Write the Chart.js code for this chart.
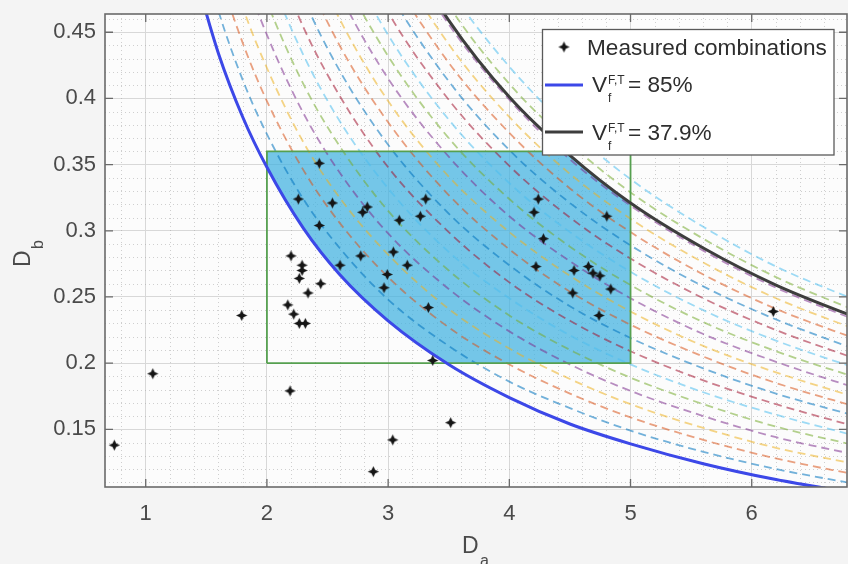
<!DOCTYPE html>
<html><head><meta charset="utf-8">
<script src="https://cdn.jsdelivr.net/npm/chart.js@4/dist/chart.umd.min.js"></script>
<style>html,body{margin:0;padding:0;background:#f4f4f4;}canvas{display:block;}</style>
</head><body>
<canvas id="c" width="848" height="564"></canvas>
<script>
// ---- data ----
const measuredDa = [0.741,1.058,1.792,2.191,2.199,2.432,2.259,2.540,2.790,2.828,2.432,3.092,3.310,3.266,2.290,2.290,2.267,2.444,2.339,2.172,2.221,2.267,2.317,2.603,2.774,3.043,3.158,2.993,2.966,3.332,3.368,3.516,3.038,2.878,4.239,4.204,4.804,4.281,4.220,4.534,4.652,4.690,4.748,4.837,4.523,4.740,6.178];
const measuredDb = [0.138,0.192,0.236,0.179,0.281,0.351,0.324,0.321,0.314,0.318,0.304,0.308,0.324,0.311,0.274,0.270,0.264,0.260,0.253,0.244,0.237,0.230,0.230,0.274,0.281,0.284,0.274,0.267,0.257,0.242,0.202,0.155,0.142,0.118,0.324,0.314,0.311,0.294,0.273,0.270,0.273,0.268,0.266,0.256,0.253,0.236,0.239];

const curveDa = [1.4,1.6,1.8,2.0,2.3,2.6,3.0,3.5,4.0,4.5,5.0,5.6,6.2,6.9];
const curveVf85 = [0.496,0.434,0.386,0.348,0.302,0.267,0.232,0.199,0.174,0.154,0.139,0.124,0.112,0.101];
const curveVf379 = [1.146,1.003,0.892,0.803,0.698,0.617,0.535,0.459,0.401,0.357,0.321,0.287,0.259,0.233];
const isoCurves = [
 [0.496,0.434,0.386,0.348,0.302,0.267,0.232,0.199,0.174,0.154,0.139,0.124,0.112,0.101],
 [0.532,0.466,0.414,0.373,0.324,0.287,0.248,0.213,0.186,0.166,0.149,0.133,0.120,0.108],
 [0.568,0.497,0.442,0.398,0.346,0.306,0.265,0.227,0.199,0.177,0.159,0.142,0.128,0.115],
 [0.604,0.528,0.469,0.423,0.367,0.325,0.282,0.241,0.211,0.188,0.169,0.151,0.136,0.123],
 [0.639,0.559,0.497,0.448,0.389,0.344,0.298,0.256,0.224,0.199,0.179,0.160,0.144,0.130],
 [0.675,0.591,0.525,0.473,0.411,0.364,0.315,0.270,0.236,0.210,0.189,0.169,0.152,0.137],
 [0.711,0.622,0.553,0.498,0.433,0.383,0.332,0.284,0.249,0.221,0.199,0.178,0.161,0.144],
 [0.746,0.653,0.581,0.523,0.454,0.402,0.348,0.299,0.261,0.232,0.209,0.187,0.169,0.151],
 [0.782,0.684,0.608,0.548,0.476,0.421,0.365,0.313,0.274,0.243,0.219,0.196,0.177,0.159],
 [0.818,0.716,0.636,0.573,0.498,0.440,0.382,0.327,0.286,0.254,0.229,0.205,0.185,0.166],
 [0.854,0.747,0.664,0.598,0.520,0.460,0.398,0.341,0.299,0.266,0.239,0.213,0.193,0.173],
 [0.889,0.778,0.692,0.623,0.541,0.479,0.415,0.356,0.311,0.277,0.249,0.222,0.201,0.180],
 [0.925,0.809,0.719,0.648,0.563,0.498,0.432,0.370,0.324,0.288,0.259,0.231,0.209,0.188],
 [0.961,0.841,0.747,0.673,0.585,0.517,0.448,0.384,0.336,0.299,0.269,0.240,0.217,0.195],
 [0.996,0.872,0.775,0.698,0.607,0.537,0.465,0.399,0.349,0.310,0.279,0.249,0.225,0.202],
 [1.032,0.903,0.803,0.723,0.628,0.556,0.482,0.413,0.361,0.321,0.289,0.258,0.233,0.209],
 [1.068,0.934,0.831,0.748,0.650,0.575,0.498,0.427,0.374,0.332,0.299,0.267,0.241,0.217],
 [1.104,0.966,0.858,0.773,0.672,0.594,0.515,0.441,0.386,0.343,0.309,0.276,0.249,0.224],
 [1.139,0.997,0.886,0.798,0.694,0.614,0.532,0.456,0.399,0.354,0.319,0.285,0.257,0.231],
 [1.175,1.028,0.914,0.823,0.715,0.633,0.548,0.470,0.411,0.366,0.329,0.294,0.265,0.238],
 [1.211,1.059,0.942,0.848,0.737,0.652,0.565,0.484,0.424,0.377,0.339,0.303,0.273,0.246]
];
const isoColorCycle = ['rgba(0,114,189,0.55)','rgba(217,83,25,0.55)','rgba(237,177,32,0.55)','rgba(126,47,142,0.55)','rgba(119,172,48,0.55)','rgba(77,190,238,0.55)','rgba(162,20,47,0.55)'];
const isoColorStart = 6;

// feasible region (rectangle clipped by the two limit curves)
const regionDa = [2.0,4.458,4.6,4.8,5.0,5.0,3.475,3.35,3.2,3.05,2.9,2.75,2.6,2.45,2.3,2.15,2.0,2.0];
const regionDb = [0.360,0.360,0.349,0.334,0.321,0.200,0.200,0.2075,0.2172,0.2279,0.2397,0.2527,0.2673,0.2837,0.3022,0.3233,0.3475,0.360];
const rectDa = [2,2,5,5,2];
const rectDb = [0.2,0.36,0.36,0.2,0.2];

const xTicks = [1,2,3,4,5,6];
const yTicks = [0.15,0.2,0.25,0.3,0.35,0.4,0.45];
const yTickLabels = ['0.15','0.2','0.25','0.3','0.35','0.4','0.45'];
const xRange = [0.664, 6.786];
const yRange = [0.1064, 0.4638];

// ---- marker ----
function makeStar(){
  const c = document.createElement('canvas'); c.width = 13; c.height = 13;
  const g = c.getContext('2d'); g.fillStyle = '#151515'; g.beginPath();
  for (let i = 0; i < 8; i++){
    const a = -Math.PI/2 + i*Math.PI/4; const r = (i%2===0) ? 5.6 : 2.6;
    const px = 6.5 + r*Math.cos(a), py = 6.5 + r*Math.sin(a);
    if (i===0) g.moveTo(px,py); else g.lineTo(px,py);
  }
  g.closePath(); g.fill(); return c;
}
const star = makeStar();

const pts = (xs, ys) => xs.map((x,i)=>({x:x, y:ys[i]}));

const datasets = [];
datasets.push({label:'Measured combinations', data: pts(measuredDa, measuredDb), showLine:false, pointStyle: star, pointRadius:6, order:0});
datasets.push({label:'Vf 37.9%', data: pts(curveDa, curveVf379), showLine:true, borderColor:'#3d3d3d', borderWidth:3, pointRadius:0, cubicInterpolationMode:'monotone', order:1, clip:0});
datasets.push({label:'Vf 85%', data: pts(curveDa, curveVf85), showLine:true, borderColor:'rgb(60,72,232)', borderWidth:3, pointRadius:0, cubicInterpolationMode:'monotone', order:2, clip:0});
datasets.push({label:'rect', data: pts(rectDa, rectDb), showLine:true, borderColor:'rgb(86,160,80)', borderWidth:1.8, pointRadius:0, tension:0, order:3, clip:0});
isoCurves.forEach((row,k)=>{
  datasets.push({label:'iso'+k, data: pts(curveDa,row), showLine:true, borderColor: isoColorCycle[(k+isoColorStart)%7], borderWidth:1.8, borderDash:[8,5], pointRadius:0, cubicInterpolationMode:'monotone', order:4, clip:0});
});
datasets.push({label:'region', data: pts(regionDa, regionDb), showLine:true, borderWidth:0, borderColor:'rgba(0,0,0,0)', backgroundColor:'rgba(64,178,224,0.72)', fill:'shape', pointRadius:0, tension:0, order:5, clip:0});

const FONT = '"Liberation Sans", Arial, sans-serif';

const decor = {
  id:'decor',
  beforeDraw(chart){
    const {ctx, chartArea:a} = chart;
    ctx.save(); ctx.fillStyle = '#f4f4f4'; ctx.fillRect(0,0,chart.width,chart.height);
    ctx.fillStyle = '#fcfcfc'; ctx.fillRect(a.left,a.top,a.right-a.left,a.bottom-a.top); ctx.restore();
  },
  beforeDatasetsDraw(chart){
    const {ctx, chartArea:a, scales:{x,y}} = chart;
    ctx.save(); ctx.strokeStyle = 'rgba(170,170,170,0.55)'; ctx.lineWidth = 1; ctx.setLineDash([1,3]);
    for (let v = 0.8; v < xRange[1]; v += 0.2){
      if (Math.abs(v - Math.round(v)) < 1e-6) continue;
      const px = Math.round(x.getPixelForValue(v))+0.5; ctx.beginPath(); ctx.moveTo(px,a.top); ctx.lineTo(px,a.bottom); ctx.stroke();
    }
    for (let i = 11; i <= 46; i++){
      if (i % 5 === 0) continue;
      const py = Math.round(y.getPixelForValue(i/100))+0.5; ctx.beginPath(); ctx.moveTo(a.left,py); ctx.lineTo(a.right,py); ctx.stroke();
    }
    ctx.restore();
  },
  afterDatasetsDraw(chart){
    const {ctx, chartArea:a, scales:{x,y}} = chart;
    ctx.save();
    ctx.strokeStyle = '#6a6a6a'; ctx.lineWidth = 1.6; ctx.setLineDash([]);
    ctx.strokeRect(a.left, a.top, a.right-a.left, a.bottom-a.top);
    ctx.lineWidth = 1.3;
    xTicks.forEach(v=>{ const px = x.getPixelForValue(v);
      ctx.beginPath(); ctx.moveTo(px,a.bottom); ctx.lineTo(px,a.bottom-8); ctx.moveTo(px,a.top); ctx.lineTo(px,a.top+8); ctx.stroke(); });
    yTicks.forEach(v=>{ const py = y.getPixelForValue(v);
      ctx.beginPath(); ctx.moveTo(a.left,py); ctx.lineTo(a.left+8,py); ctx.moveTo(a.right,py); ctx.lineTo(a.right-8,py); ctx.stroke(); });
    ctx.fillStyle = '#4a4a4a'; ctx.textBaseline = 'alphabetic'; ctx.textAlign = 'left';
    ctx.font = '23px ' + FONT; ctx.fillText('D', 462, 553);
    ctx.font = '16px ' + FONT; ctx.fillText('a', 480, 566);
    ctx.save(); ctx.translate(30, 267); ctx.rotate(-Math.PI/2);
    ctx.font = '23px ' + FONT; ctx.fillText('D', 0, 0);
    ctx.font = '16px ' + FONT; ctx.fillText('b', 18, 13);
    ctx.restore();
    ctx.fillStyle = '#ffffff'; ctx.fillRect(542.5,29.5,291.5,125.5);
    ctx.strokeStyle = '#5a5a5a'; ctx.lineWidth = 1.3; ctx.strokeRect(542.5,29.5,291.5,125.5);
    ctx.drawImage(star, 564-6.5, 47-6.5);
    ctx.fillStyle = '#2e2e2e'; ctx.font = '22.6px ' + FONT;
    ctx.fillText('Measured combinations', 587, 55);
    ctx.lineWidth = 3; ctx.strokeStyle = 'rgb(60,72,232)';
    ctx.beginPath(); ctx.moveTo(545,85); ctx.lineTo(583,85); ctx.stroke();
    ctx.strokeStyle = '#3d3d3d';
    ctx.beginPath(); ctx.moveTo(545,132); ctx.lineTo(583,132); ctx.stroke();
    [[92,'= 85%'],[139.5,'= 37.9%']].forEach(([b,t])=>{
      ctx.font = '22.6px ' + FONT; ctx.fillText('V', 592, b);
      ctx.font = '12px ' + FONT; ctx.fillText('F,T', 608, b-8); ctx.fillText('f', 608, b+10);
      ctx.font = '22.6px ' + FONT; ctx.fillText(t, 628, b);
    });
    ctx.restore();
  }
};

const zeroPad = (s) => { s.paddingTop = 0; s.paddingBottom = 0; s.paddingLeft = 0; s.paddingRight = 0; };

new Chart(document.getElementById('c'), {
  type:'scatter',
  data:{datasets},
  plugins:[decor],
  options:{
    responsive:false, animation:false, devicePixelRatio:1,
    layout:{autoPadding:false, padding:{top:14,right:1,left:0,bottom:0}},
    plugins:{legend:{display:false}, tooltip:{enabled:false}},
    scales:{
      x:{type:'linear', min:xRange[0], max:xRange[1],
         afterBuildTicks(s){ s.ticks = xTicks.map(v=>({value:v})); },
         afterFit(s){ s.height = 77; zeroPad(s); },
         grid:{color:'#d8d8d8', lineWidth:1, drawTicks:false}, border:{display:false},
         ticks:{padding:14, color:'#4a4a4a', font:{family:FONT, size:22}, maxRotation:0, callback:(v)=>String(v)}},
      y:{type:'linear', min:yRange[0], max:yRange[1],
         afterBuildTicks(s){ s.ticks = yTicks.map(v=>({value:v})); },
         afterFit(s){ s.width = 105; zeroPad(s); },
         grid:{color:'#d8d8d8', lineWidth:1, drawTicks:false}, border:{display:false},
         ticks:{padding:9, color:'#4a4a4a', font:{family:FONT, size:22}, callback:(v,i)=>yTickLabels[i]}}
    }
  }
});
</script>
</body></html>
